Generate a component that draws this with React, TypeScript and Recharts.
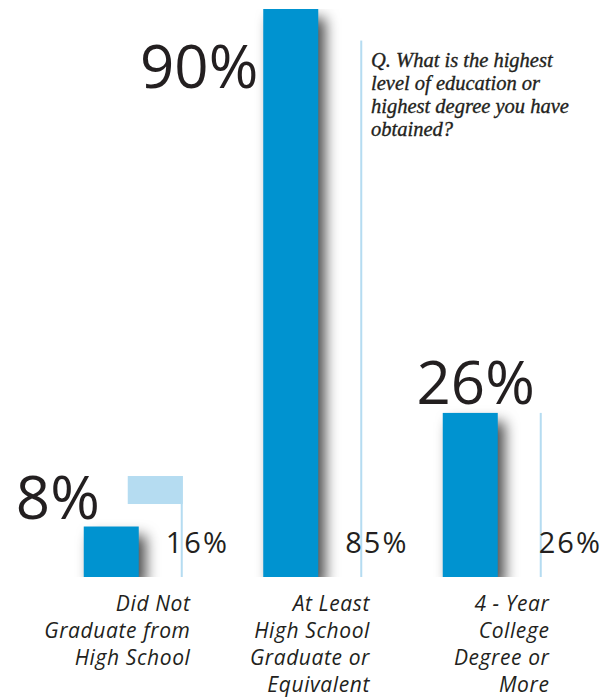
import React from "react";
import { BarChart, Bar, XAxis, YAxis, LabelList } from "recharts";

const CATEGORIES = [
  "Did Not Graduate from High School",
  "At Least High School Graduate or Equivalent",
  "4 - Year College Degree or More",
];
const CATEGORY_LINES = [
  ["Did Not", "Graduate from", "High School"],
  ["At Least", "High School", "Graduate or", "Equivalent"],
  ["4 - Year", "College", "Degree or", "More"],
];
const SURVEY_VALUES = [8, 90, 26];
const COMPARISON_VALUES = [16, 85, 26];
const QUESTION_LINES = [
  "Q. What is the highest",
  "level of education or",
  "highest degree you have",
  "obtained?",
];

// styling constants (not data)
const DARK = "#0093d0";
const LIGHT = "#b5dcf1";
const INK = "#231f20";
const BIG_DX = [16, -5, 92];
const BIG_DY = [-8, 79, -9];
const SMALL_DX = [38, 38, 52];
const CAP_HEIGHTS = [28, 0, 0];

const data = CATEGORIES.map((category, i) => ({
  category,
  survey: SURVEY_VALUES[i],
  comparison: COMPARISON_VALUES[i],
}));

const DarkShape = (props: any) => {
  const { x, y, width, height } = props;
  return (
    <rect
      x={x}
      y={y}
      width={width}
      height={height}
      fill={DARK}
      style={{ filter: "drop-shadow(7px 9px 7px rgba(0,0,0,0.7))" }}
    />
  );
};

const LightShape = (props: any) => {
  const { x, y, width, height, index } = props;
  const cap = CAP_HEIGHTS[index] || 0;
  return (
    <g>
      {cap > 0 && <rect x={x} y={y} width={width} height={cap} fill={LIGHT} />}
      <rect x={x + width - 2} y={y} width={2} height={height} fill={LIGHT} />
    </g>
  );
};

const BigLabel = (props: any) => {
  const { x, y, index, value } = props;
  return (
    <text
      x={x + BIG_DX[index]}
      y={y + BIG_DY[index]}
      textAnchor="end"
      fontFamily="'Open Sans', sans-serif"
      fontWeight={500}
      fontSize={60}
      fill={INK}
    >
      {value}%
    </text>
  );
};

const SmallLabel = (props: any) => {
  const { x, y, height, index, value } = props;
  return (
    <text
      x={x + SMALL_DX[index]}
      y={y + height - 24}
      textAnchor="start"
      fontFamily="'Open Sans', sans-serif"
      fontSize={29}
      letterSpacing={2}
      fill={INK}
    >
      {value}%
    </text>
  );
};

const CategoryTick = (props: any) => {
  const { x, y, payload } = props;
  const idx = CATEGORIES.indexOf(payload.value);
  const lines = CATEGORY_LINES[idx] || [payload.value];
  return (
    <g>
      {lines.map((l, i) => (
        <text
          key={i}
          x={x + 57}
          y={y + 34 + i * 27}
          textAnchor="end"
          fontFamily="'Open Sans', sans-serif"
          fontStyle="italic"
          fontSize={21}
          letterSpacing={0.6}
          fill={INK}
        >
          {l}
        </text>
      ))}
    </g>
  );
};

export default function App() {
  return (
    <div style={{ position: "absolute", left: 0, top: 0, width: 612, height: 699, background: "#fff" }}>
      <BarChart
        width={612}
        height={699}
        data={data}
        margin={{ top: 9, right: 29.75, bottom: 12, left: 43.75 }}
        barSize={55}
        barGap={-11}
      >
        <XAxis
          dataKey="category"
          axisLine={false}
          tickLine={false}
          tickSize={0}
          tickMargin={0}
          height={110}
          interval={0}
          tick={<CategoryTick />}
        />
        <YAxis hide domain={[0, 90]} allowDataOverflow />
        <Bar dataKey="survey" isAnimationActive={false} shape={<DarkShape />}>
          <LabelList dataKey="survey" content={<BigLabel />} />
        </Bar>
        <Bar dataKey="comparison" isAnimationActive={false} shape={<LightShape />}>
          <LabelList dataKey="comparison" content={<SmallLabel />} />
        </Bar>
      </BarChart>
      <svg
        width={612}
        height={699}
        style={{ position: "absolute", left: 0, top: 0, pointerEvents: "none" }}
      >
        <text
          fontFamily="'Liberation Serif', serif"
          fontStyle="italic"
          fontSize={20.5}
          fill={INK}
          stroke={INK}
          strokeWidth={0.35}
        >
          {QUESTION_LINES.map((l, i) => (
            <tspan key={i} x={371} y={67 + i * 23}>
              {l}
            </tspan>
          ))}
        </text>
      </svg>
    </div>
  );
}
